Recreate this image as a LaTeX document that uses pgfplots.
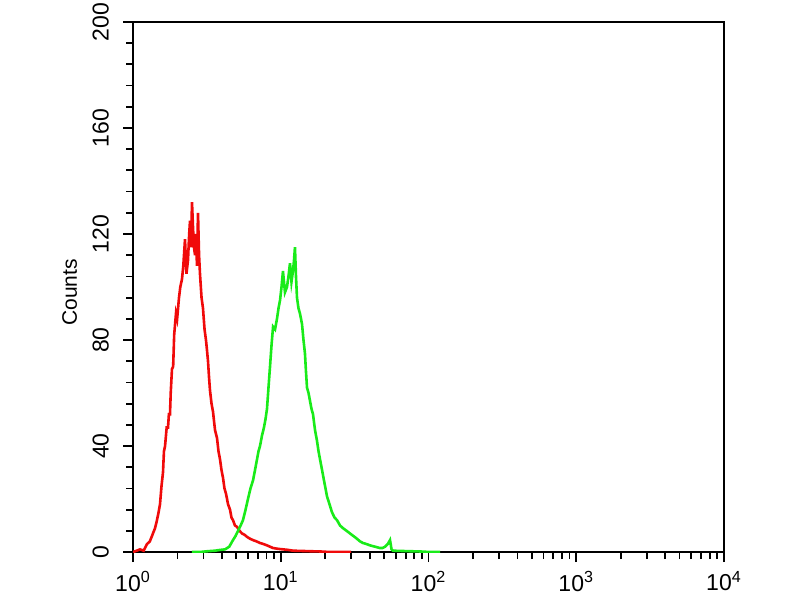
\documentclass[border=0pt]{standalone}
\usepackage{pgfplots}
\pgfplotsset{compat=1.18}
\usepackage{fontspec}
\setmainfont{Liberation Sans}
\definecolor{myred}{RGB}{240,10,10}
\definecolor{mygreen}{RGB}{25,235,25}
\begin{document}
\begin{tikzpicture}
\begin{axis}[
  scale only axis,
  width=295.5pt, height=265pt,
  xmode=log, xmin=1, xmax=10000, ymin=0, ymax=200,
  axis line style={line width=1pt},
  tick style={black, line width=0.9pt},
  tick align=outside,
  xtick pos=bottom, ytick pos=left,
  major tick length=5pt, minor tick length=3.5pt,
  ytick={0,40,80,120,160,200},
  minor y tick num=4,
  xtick={1,10,100,1000,10000},
  xticklabels={10\textsuperscript{0},10\textsuperscript{1},10\textsuperscript{2},10\textsuperscript{3},10\textsuperscript{4}},
  log ticks with fixed point=false,
  /pgf/number format/assume math mode=true,
  yticklabel style={rotate=90, anchor=south, font=\fontsize{11.5}{13}\selectfont, yshift=3.5pt},
  xticklabel style={font=\fontsize{11.5}{13}\selectfont, yshift=-1pt},
  ylabel={Counts},
  ylabel style={font=\fontsize{10.5}{12}\selectfont, at={(axis description cs:-0.107,0.49)}, anchor=center},
  clip=true,
]
\coordinate (sw) at (rel axis cs:0,0);
\coordinate (ne) at (rel axis cs:1,1);
\addplot[myred, line width=1.3pt] coordinates {
(1.0,0) (1.06,0.5) (1.115,1) (1.18,0.5) (1.244,3) (1.30,4) (1.365,7) (1.41,9) (1.453,12) (1.49,15) (1.523,18) (1.56,25) (1.596,30) (1.62,38) (1.648,40) (1.69,47) (1.726,47) (1.75,52) (1.780,52) (1.80,60) (1.836,69) (1.87,70) (1.90,82) (1.954,90) (1.99,88) (2.048,96) (2.09,100) (2.146,103) (2.19,108) (2.249,118) (2.30,105) (2.356,110) (2.40,120) (2.432,125) (2.47,115) (2.508,132) (2.55,122) (2.587,115) (2.63,112) (2.668,120) (2.71,108) (2.754,128) (2.80,112) (2.840,105) (2.91,96) (2.976,92) (3.05,84) (3.118,80) (3.17,76) (3.219,72) (3.27,66) (3.320,61) (3.40,56) (3.479,53) (3.59,46) (3.704,43) (3.79,38) (3.881,35) (3.97,31) (4.066,28) (4.16,24) (4.260,22) (4.40,18) (4.535,16) (4.64,13) (4.752,12) (4.90,10) (5.058,9.5) (5.26,8) (5.470,7) (5.69,6.5) (5.915,5.7) (6.20,5) (6.486,4.5) (6.86,4) (7.24,3.4) (7.65,3) (8.07,2.5) (8.47,2) (8.87,1.5) (9.6,1.2) (10.35,1) (11.2,0.8) (12.1,0.5) (13.9,0.4) (15.8,0.3) (18.5,0.2) (21.5,0) (30,0)
};
\addplot[mygreen, line width=1.3pt] coordinates {
(2.5,0) (2.84,0) (3.2,0.3) (3.59,0.5) (3.9,0.8) (4.20,1) (4.48,2) (4.75,4.5) (4.94,6) (5.14,8) (5.35,10) (5.55,12) (5.78,16) (6.00,20) (6.24,24) (6.49,27) (6.70,31) (6.91,35) (7.07,38) (7.24,40) (7.47,44) (7.70,47) (7.88,50) (8.07,54) (8.26,62) (8.46,70) (8.66,78) (8.87,85) (9.15,84) (9.43,88) (9.66,92) (9.89,95) (10.12,100) (10.35,106) (10.68,98) (11.02,100) (11.28,104) (11.55,109) (11.82,102) (12.1,106) (12.29,110) (12.48,115) (12.68,104) (12.88,96) (13.18,92) (13.49,90) (13.71,88) (13.93,86) (14.25,80) (14.58,75) (14.82,68) (15.06,62) (15.42,60) (15.78,57) (16.15,54) (16.53,52) (17.06,46) (17.59,42) (18.02,38) (18.44,35) (19.03,31) (19.62,27) (20.09,24) (20.56,21) (21.39,18) (22.22,15) (23.13,13) (24.04,12) (25.2,10) (26.38,9) (27.9,8) (29.42,7) (31.1,6) (32.8,5) (34.4,4) (36.06,3.4) (38.1,3) (40.2,2.5) (43.5,2) (46.9,1.5) (48.8,1.5) (50.8,2) (53.0,3) (54.9,4.5) (56.2,1) (57.5,0.5) (65,0.4) (75,0.3) (88,0.2) (102,0) (120,0)
};
\end{axis}
\pgfresetboundingbox
\path ([shift={(-66.5pt,-24pt)}]sw) rectangle ([shift={(38pt,11pt)}]ne);
\end{tikzpicture}
\end{document}
